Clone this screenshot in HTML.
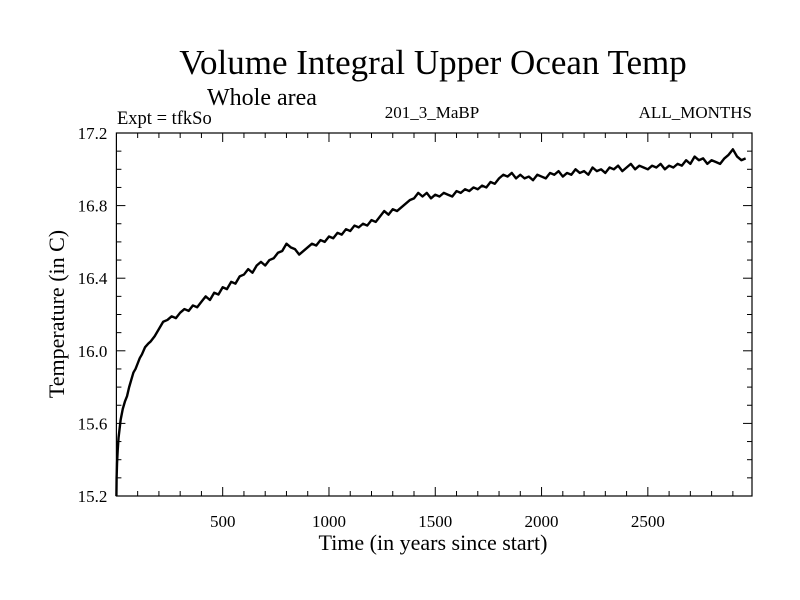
<!DOCTYPE html>
<html><head><meta charset="utf-8"><style>
body{margin:0;background:#fff;}
svg{display:block;font-family:"Liberation Serif",serif;}
</style></head><body>
<svg id="chart" width="800" height="600" viewBox="0 0 800 600">
<text x="433" y="74" font-size="35" text-anchor="middle">Volume Integral Upper Ocean Temp</text>
<text x="262" y="105" font-size="24" text-anchor="middle">Whole area</text>
<text x="117" y="124" font-size="18.5">Expt = tfkSo</text>
<text x="432" y="118" font-size="17" text-anchor="middle">201_3_MaBP</text>
<text x="752" y="118" font-size="17" text-anchor="end">ALL_MONTHS</text>
<g id="axes"></g>
<path id="series" fill="none" stroke="#000" stroke-width="2.4" stroke-linejoin="round"/>
<text x="433" y="550" font-size="22" text-anchor="middle">Time (in years since start)</text>
<text x="0" y="0" font-size="22" text-anchor="middle" transform="translate(64,314) rotate(-90)">Temperature (in C)</text>
</svg>
<script>
const years=[0,1,3,6,10,15,20,30,40,50,60,70,80,90,100,110,120,135,150,160,180,200,220,240,260,280,300,320,340,360,380,400,420,440,460,480,500,520,540,560,580,600,620,640,660,680,700,720,740,760,780,800,820,840,860,880,900,920,940,960,980,1000,1020,1040,1060,1080,1100,1120,1140,1160,1180,1200,1220,1240,1260,1280,1300,1320,1340,1360,1380,1400,1420,1440,1460,1480,1500,1520,1540,1560,1580,1600,1620,1640,1660,1680,1700,1720,1740,1760,1780,1800,1820,1840,1860,1880,1900,1920,1940,1960,1980,2000,2020,2040,2060,2080,2100,2120,2140,2160,2180,2200,2220,2240,2260,2280,2300,2320,2340,2360,2380,2400,2420,2440,2460,2480,2500,2520,2540,2560,2580,2600,2620,2640,2660,2680,2700,2720,2740,2760,2780,2800,2820,2840,2860,2880,2900,2920,2940,2960,2980,2990];
const temps=[15.2,15.3,15.38,15.45,15.52,15.57,15.62,15.68,15.72,15.75,15.8,15.84,15.88,15.9,15.93,15.96,15.98,16.02,16.04,16.05,16.08,16.12,16.16,16.17,16.19,16.18,16.21,16.23,16.22,16.25,16.24,16.27,16.3,16.28,16.32,16.31,16.35,16.34,16.38,16.37,16.41,16.42,16.45,16.43,16.47,16.49,16.47,16.5,16.51,16.54,16.55,16.59,16.57,16.56,16.53,16.55,16.57,16.59,16.58,16.61,16.6,16.63,16.62,16.65,16.64,16.67,16.66,16.69,16.68,16.7,16.69,16.72,16.71,16.74,16.77,16.75,16.78,16.77,16.79,16.81,16.83,16.84,16.87,16.85,16.87,16.84,16.86,16.85,16.87,16.86,16.85,16.88,16.87,16.89,16.88,16.9,16.89,16.91,16.9,16.93,16.92,16.95,16.97,16.96,16.98,16.95,16.97,16.95,16.96,16.94,16.97,16.96,16.95,16.98,16.97,16.99,16.96,16.98,16.97,17.0,16.98,16.99,16.97,17.01,16.99,17.0,16.98,17.01,17.0,17.02,16.99,17.01,17.03,17.0,17.02,17.01,17.0,17.02,17.01,17.03,17.0,17.02,17.01,17.03,17.02,17.05,17.03,17.07,17.05,17.06,17.03,17.05,17.04,17.03,17.06,17.08,17.11,17.07,17.05,17.06];
const xTicks=[500,1000,1500,2000,2500];
const yTicks=[15.2,15.6,16.0,16.4,16.8,17.2];
const L=116.4,R=752,T=133,B=496,X0=0,X1=2990,Y0=15.2,Y1=17.2;
const xs=v=>L+(v-X0)/(X1-X0)*(R-L);
const ys=v=>B-(v-Y0)/(Y1-Y0)*(B-T);
const NS='http://www.w3.org/2000/svg';
const ax=document.getElementById('axes');
function mk(t,a){const e=document.createElementNS(NS,t);for(const k in a)e.setAttribute(k,a[k]);ax.appendChild(e);return e;}
const fr=mk('rect',{x:L,y:T,width:R-L,height:B-T,fill:'none',stroke:'#000','stroke-width':1.2});


for(let v=100;v<X1;v+=100){const maj=v%500===0,len=maj?9:5;
 mk('line',{x1:xs(v),x2:xs(v),y1:B,y2:B-len,stroke:'#000'});
 mk('line',{x1:xs(v),x2:xs(v),y1:T,y2:T+len,stroke:'#000'});}
for(let v=15.3;v<17.2;v+=0.1){const maj=Math.abs(v*10%4)<0.01||Math.abs(v*10%4-4)<0.01;const len=maj?9:5;
 mk('line',{x1:L,x2:L+len,y1:ys(v),y2:ys(v),stroke:'#000'});
 mk('line',{x1:R,x2:R-len,y1:ys(v),y2:ys(v),stroke:'#000'});}
xTicks.forEach(v=>{const t=mk('text',{x:xs(v),y:B+31,'font-size':17,'text-anchor':'middle'});t.textContent=v;
 
 });
yTicks.forEach(v=>{const t=mk('text',{x:L-9,y:ys(v)+6,'font-size':17,'text-anchor':'end'});t.textContent=v.toFixed(1);
 
 });
document.getElementById('series').setAttribute('d',years.map((y,i)=>(i?'L':'M')+xs(y).toFixed(2)+' '+ys(temps[i]).toFixed(2)).join(''));
</script>
</body></html>
